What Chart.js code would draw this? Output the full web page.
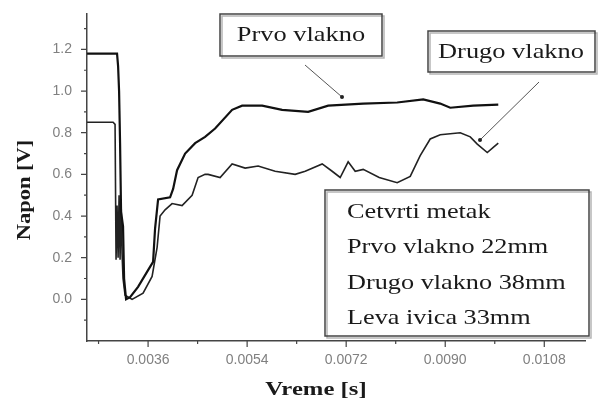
<!DOCTYPE html>
<html>
<head>
<meta charset="utf-8">
<script src="https://cdn.jsdelivr.net/npm/chart.js@4.4.1/dist/chart.umd.min.js"></script>
<style>
  html, body { margin: 0; padding: 0; background: #fff; }
  #wrap { width: 599px; height: 405px; }
</style>
</head>
<body>
<div id="wrap"><canvas id="grafica" width="599" height="405"></canvas></div>
<script>
// datos (vreme u sekundama, napon u voltima)
const prvoX = [0.002491, 0.003036, 0.003055, 0.003073, 0.003091, 0.003109, 0.003145, 0.003164, 0.003200, 0.003273,
  0.003418, 0.003600, 0.003691, 0.003727, 0.003782, 0.004000, 0.004055, 0.004127, 0.004273, 0.004455,
  0.004636, 0.004818, 0.005127, 0.005309, 0.005673, 0.006036, 0.006509, 0.006873, 0.007509, 0.008127,
  0.008600, 0.008909, 0.009091, 0.009509, 0.009964];
const prvoY = [1.18, 1.18, 1.12, 1.00, 0.75, 0.42, 0.35, 0.10, 0.00, 0.01,
  0.06, 0.14, 0.18, 0.34, 0.48, 0.49, 0.53, 0.62, 0.70, 0.75,
  0.78, 0.82, 0.91, 0.93, 0.93, 0.91, 0.90, 0.93, 0.94, 0.945,
  0.96, 0.94, 0.92, 0.93, 0.935];

const drugoX = [0.002491, 0.002964, 0.003000, 0.003018, 0.003036, 0.003055, 0.003073, 0.003091, 0.003109, 0.003127,
  0.003145, 0.003182, 0.003309, 0.003509, 0.003673, 0.003764, 0.003818, 0.003909, 0.004036, 0.004218,
  0.004400, 0.004509, 0.004636, 0.004691, 0.004909, 0.005127, 0.005364, 0.005600, 0.005909, 0.006273,
  0.006455, 0.006764, 0.006945, 0.007091, 0.007236, 0.007364, 0.007509, 0.007800, 0.008127, 0.008364,
  0.008545, 0.008727, 0.008909, 0.009273, 0.009455, 0.009582, 0.009764, 0.009873, 0.009964];
const drugoY = [0.85, 0.85, 0.84, 0.19, 0.45, 0.20, 0.50, 0.19, 0.48, 0.22,
  0.10, 0.02, 0.00, 0.03, 0.11, 0.25, 0.40, 0.43, 0.46, 0.45,
  0.50, 0.585, 0.60, 0.60, 0.585, 0.65, 0.63, 0.64, 0.615, 0.60,
  0.615, 0.65, 0.615, 0.585, 0.66, 0.615, 0.624, 0.585, 0.56, 0.59,
  0.69, 0.77, 0.79, 0.80, 0.78, 0.745, 0.705, 0.73, 0.75];

// oznake na osama
const xGlavni = [0.0036, 0.0054, 0.0072, 0.0090, 0.0108];
const xSporedni = [0.0027, 0.0045, 0.0063, 0.0081, 0.0099];
const yGlavni = [0.0, 0.2, 0.4, 0.6, 0.8, 1.0, 1.2];
const ySporedni = [-0.1, 0.1, 0.3, 0.5, 0.7, 0.9, 1.1, 1.3];

const legendaRedovi = ['Cetvrti metak', 'Prvo vlakno 22mm', 'Drugo vlakno 38mm', 'Leva ivica 33mm'];

const SERIF = '"Liberation Serif", "Times New Roman", Tinos, serif';
const SANS = '"Liberation Sans", Arial, Arimo, sans-serif';

const tacke = (xs, ys) => xs.map((x, i) => ({ x: x, y: ys[i] }));

// pise tekst sa horizontalnim rastezanjem (kao u originalu)
function tekst(ctx, str, x, y, font, sx, align) {
  ctx.save();
  ctx.font = font;
  ctx.fillStyle = '#1a1a1a';
  ctx.textBaseline = 'middle';
  ctx.textAlign = align || 'left';
  ctx.translate(x, y);
  ctx.scale(sx, 1);
  ctx.fillText(str, 0, 0);
  ctx.restore();
}

function okvir(ctx, x, y, w, h) {
  ctx.save();
  ctx.fillStyle = '#fff';
  ctx.fillRect(x, y, w, h);
  ctx.strokeStyle = '#b5b5b5';
  ctx.lineWidth = 1.5;
  ctx.strokeRect(x + 2, y + 2, w, h);
  ctx.strokeStyle = '#444';
  ctx.lineWidth = 1.5;
  ctx.strokeRect(x, y, w, h);
  ctx.restore();
}

function strelica(ctx, x1, y1, x2, y2) {
  ctx.save();
  ctx.strokeStyle = '#555';
  ctx.lineWidth = 1;
  ctx.beginPath();
  ctx.moveTo(x1, y1);
  ctx.lineTo(x2, y2);
  ctx.stroke();
  ctx.fillStyle = '#222';
  ctx.beginPath();
  ctx.arc(x2, y2, 2, 0, Math.PI * 2);
  ctx.fill();
  ctx.restore();
}

const crtice = {
  id: 'crtice',
  afterDatasetsDraw(chart) {
    const ctx = chart.ctx;
    const xs = chart.scales.x, ys = chart.scales.y;
    const a = chart.chartArea;
    ctx.save();
    ctx.strokeStyle = '#444';
    ctx.lineWidth = 1.2;
    ctx.beginPath();
    xGlavni.forEach(v => { const p = xs.getPixelForValue(v); ctx.moveTo(p, a.bottom); ctx.lineTo(p, a.bottom + 6); });
    xSporedni.forEach(v => { const p = xs.getPixelForValue(v); ctx.moveTo(p, a.bottom); ctx.lineTo(p, a.bottom + 3); });
    yGlavni.forEach(v => { const p = ys.getPixelForValue(v); ctx.moveTo(a.left, p); ctx.lineTo(a.left - 6, p); });
    ySporedni.forEach(v => { const p = ys.getPixelForValue(v); ctx.moveTo(a.left, p); ctx.lineTo(a.left - 3, p); });
    ctx.stroke();
    ctx.restore();

    // naslovi osa
    tekst(ctx, 'Vreme [s]', 316, 390, 'bold 19px ' + SERIF, 1.3, 'center');
    ctx.save();
    ctx.translate(25, 190);
    ctx.rotate(-Math.PI / 2);
    tekst(ctx, 'Napon [V]', 0, 0, 'bold 18px ' + SERIF, 1.25, 'center');
    ctx.restore();

    // natpisi sa strelicama
    strelica(ctx, 305, 65, 342, 97);
    okvir(ctx, 220, 14, 162, 42);
    tekst(ctx, 'Prvo vlakno', 301, 35, '22px ' + SERIF, 1.2, 'center');

    strelica(ctx, 539, 82, 480, 140);
    okvir(ctx, 428, 31, 167, 41);
    tekst(ctx, 'Drugo vlakno', 511, 52, '22px ' + SERIF, 1.2, 'center');

    // legenda
    okvir(ctx, 325, 190, 264, 146);
    legendaRedovi.forEach((r, i) => {
      tekst(ctx, r, 347, 212 + i * 35.5, '21px ' + SERIF, 1.25, 'left');
    });
  }
};

(function() {
  const ctx = document.getElementById('grafica');

  new Chart(ctx, {
    type: 'line',
    data: {
      datasets: [
        {
          label: 'Prvo vlakno',
          data: tacke(prvoX, prvoY),
          borderColor: '#111',
          borderWidth: 2.2,
          pointRadius: 0,
          tension: 0
        },
        {
          label: 'Drugo vlakno',
          data: tacke(drugoX, drugoY),
          borderColor: '#222',
          borderWidth: 1.6,
          pointRadius: 0,
          tension: 0
        }
      ]
    },
    options: {
      responsive: false,
      animation: false,
      layout: { padding: { left: 0, top: 14, right: 14, bottom: 0 } },
      plugins: {
        legend: { display: false },
        tooltip: { enabled: false }
      },
      scales: {
        x: {
          type: 'linear',
          min: 0.00249,
          max: 0.01154,
          afterFit: s => { s.height = 64; s.paddingLeft = 0; s.paddingRight = 0; },
          afterBuildTicks: s => { s.ticks = xGlavni.map(v => ({ value: v })); },
          grid: { display: false, drawTicks: false, tickLength: 0 },
          border: { display: true, color: '#444', width: 1.5 },
          ticks: {
            padding: 11,
            maxRotation: 0,
            color: '#808080',
            font: { family: SANS, size: 14 },
            callback: v => v.toFixed(4)
          }
        },
        y: {
          min: -0.2,
          max: 1.37,
          afterFit: s => { s.width = 87; s.paddingTop = 0; s.paddingBottom = 0; },
          afterBuildTicks: s => { s.ticks = yGlavni.map(v => ({ value: v })); },
          grid: { display: false, drawTicks: false, tickLength: 0 },
          border: { display: true, color: '#444', width: 1.5 },
          ticks: {
            padding: 15,
            color: '#808080',
            font: { family: SANS, size: 14 },
            callback: v => v.toFixed(1)
          }
        }
      }
    },
    plugins: [crtice]
  });
})();
</script>
</body>
</html>
